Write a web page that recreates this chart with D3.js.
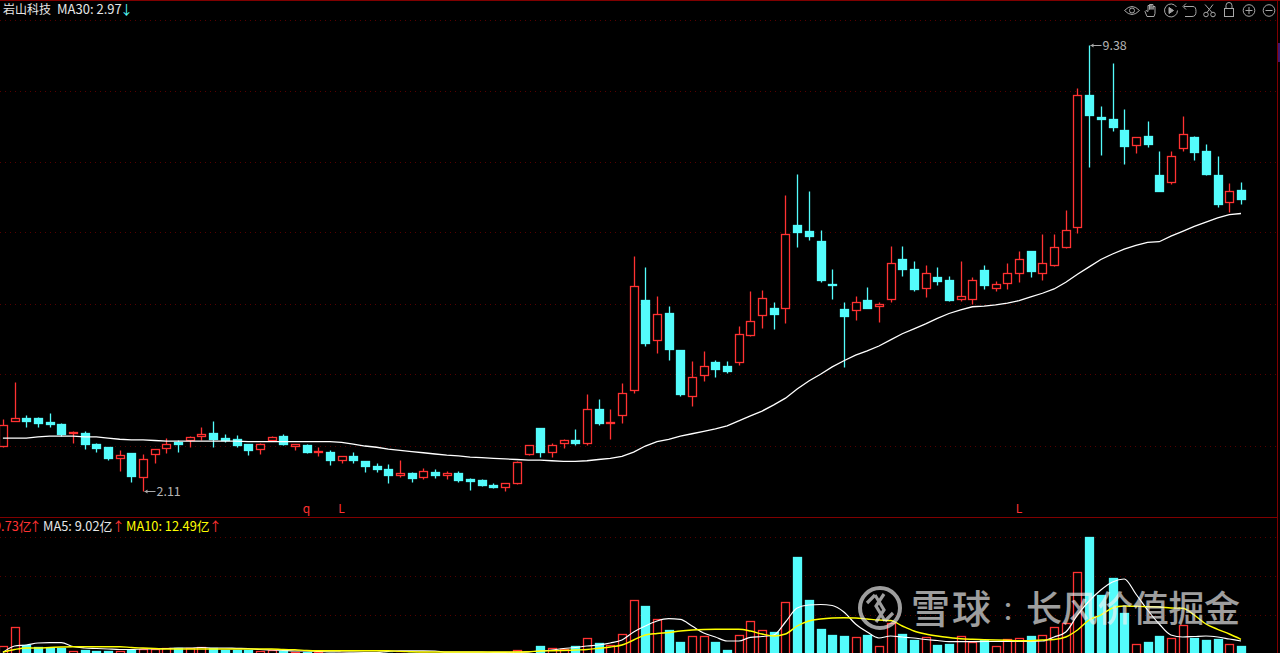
<!DOCTYPE html>
<html><head><meta charset="utf-8">
<script src="https://cdn.jsdelivr.net/npm/d3@7/dist/d3.min.js"></script>
<style>html,body{margin:0;padding:0;background:#000;overflow:hidden}svg{display:block}text{font-family:"Noto Sans CJK SC","Noto Sans",sans-serif}</style>
</head><body><svg id="c" width="1280" height="653"></svg>
<script>
const openP=[2.84,3.25,3.30,3.29,3.23,3.20,3.05,3.06,2.87,2.82,2.64,2.72,2.34,2.71,2.81,2.91,2.94,3.01,3.05,2.97,2.95,2.87,2.79,2.94,3.00,2.84,2.85,2.74,2.75,2.62,2.68,2.59,2.52,2.46,2.36,2.40,2.33,2.41,2.36,2.40,2.30,2.28,2.20,2.17,2.24,2.71,3.13,2.74,2.89,2.94,2.89,3.44,3.22,3.35,3.76,5.22,4.56,5.01,4.41,3.66,3.99,4.21,4.15,4.21,4.65,4.98,5.09,5.09,6.44,6.34,6.18,5.48,5.07,5.06,5.22,5.13,5.23,5.89,5.73,5.42,5.60,5.54,5.23,5.23,5.71,5.41,5.49,5.66,6.02,5.66,5.79,6.09,6.41,8.56,8.20,8.17,7.99,7.74,7.90,7.25,7.15,7.70,7.87,7.65,7.25,6.82,7.02];
const closeP=[3.19,3.29,3.25,3.22,3.20,3.04,3.07,2.87,2.81,2.65,2.69,2.35,2.63,2.79,2.88,2.87,2.98,3.04,2.95,2.93,2.86,2.78,2.87,2.98,2.88,2.87,2.74,2.76,2.62,2.68,2.61,2.51,2.46,2.37,2.40,2.32,2.43,2.37,2.40,2.29,2.27,2.20,2.17,2.23,2.58,2.85,2.74,2.85,2.94,2.89,3.44,3.22,3.23,3.70,5.45,4.52,4.99,4.42,3.69,3.96,4.15,4.10,4.07,4.66,4.87,5.25,5.00,6.30,6.33,6.26,5.54,5.47,4.96,5.18,5.09,5.15,5.83,5.72,5.40,5.66,5.53,5.22,5.28,5.54,5.46,5.48,5.66,5.89,5.70,5.82,6.08,6.36,8.56,8.24,8.17,8.04,7.73,7.88,7.76,6.99,7.57,7.92,7.63,7.27,6.78,7.00,6.87];
const highP=[3.28,3.88,3.35,3.32,3.38,3.21,3.08,3.08,2.89,2.82,2.78,2.72,2.71,2.79,2.97,2.94,3.00,3.15,3.25,3.04,3.02,2.88,2.89,3.00,3.04,2.87,2.87,2.83,2.78,2.68,2.74,2.59,2.57,2.55,2.62,2.41,2.48,2.47,2.43,2.43,2.32,2.30,2.24,2.23,2.60,2.85,3.13,2.89,2.95,3.12,3.69,3.61,3.44,3.86,5.94,5.76,5.29,5.12,4.41,4.23,4.39,4.24,4.23,4.80,5.37,5.39,5.19,6.93,7.27,6.99,6.36,5.72,5.18,5.29,5.43,5.18,6.10,6.10,5.86,5.79,5.76,5.61,5.86,5.59,5.79,5.53,5.82,6.02,6.02,6.30,6.30,6.69,8.68,9.38,8.39,9.09,8.34,7.88,8.14,7.65,7.65,8.22,7.89,7.76,7.57,7.12,7.14];
const lowP=[2.83,3.25,3.15,3.15,3.15,3.00,2.89,2.79,2.74,2.61,2.44,2.25,2.11,2.57,2.73,2.74,2.83,2.94,2.83,2.91,2.83,2.69,2.71,2.93,2.86,2.77,2.73,2.68,2.53,2.57,2.57,2.41,2.42,2.23,2.34,2.26,2.31,2.32,2.31,2.26,2.12,2.19,2.16,2.11,2.22,2.69,2.66,2.66,2.80,2.86,2.86,3.18,2.95,3.22,3.71,4.47,4.36,4.24,3.66,3.49,3.90,3.96,4.03,4.16,4.63,4.76,4.75,4.85,6.09,6.20,5.52,5.24,4.13,4.89,5.09,4.86,5.18,5.61,5.37,5.27,5.46,5.21,5.21,5.15,5.40,5.36,5.40,5.52,5.60,5.55,5.77,6.06,6.32,7.39,7.58,7.98,7.44,7.62,7.71,6.99,7.11,7.65,7.50,7.25,6.74,6.66,6.78];
const ma30=[2.97,2.97,2.97,2.99,3.00,3.00,3.00,2.99,2.99,2.97,2.95,2.94,2.94,2.93,2.92,2.92,2.92,2.92,2.92,2.92,2.92,2.91,2.91,2.91,2.91,2.91,2.91,2.91,2.91,2.90,2.87,2.84,2.82,2.79,2.77,2.75,2.73,2.71,2.69,2.68,2.66,2.65,2.64,2.63,2.62,2.61,2.61,2.60,2.59,2.59,2.60,2.62,2.64,2.67,2.74,2.84,2.91,2.95,3.00,3.04,3.08,3.12,3.17,3.25,3.33,3.41,3.51,3.62,3.77,3.90,4.01,4.13,4.23,4.32,4.39,4.47,4.57,4.67,4.75,4.83,4.92,5.00,5.06,5.11,5.12,5.14,5.17,5.21,5.27,5.33,5.40,5.51,5.64,5.76,5.88,5.97,6.05,6.11,6.16,6.17,6.26,6.34,6.42,6.49,6.56,6.61,6.63];
const volume=[7,16.35,7.5,6.5,6.15,6.15,4.65,5,4.65,4.5,4.5,5,5.65,5.65,5.85,5.85,6,6.65,5.85,4.85,5.15,5.15,4.35,5,4.5,4.15,4.15,3.85,3.65,3.5,3,3.25,3.5,3.75,3.75,3.75,3.75,3,3,3,3,3,3,3,4.85,3,7,5.85,5.65,6.85,10.85,8.65,7.65,12.85,29.85,27.15,20.5,14.85,9,11.85,11.85,9,4.85,12.35,19.5,14.85,14,28.85,51.5,30,15.5,12.5,12,11.35,12.5,7,18.35,13,10,11.35,7.65,8.15,11.85,8.85,10,7,10.35,10.85,12,12.5,16.35,18.35,43.85,61.35,32.5,41,23.35,7.85,9,12,10.85,17.65,11,10,10.5,7.85,6.85];
const ma5=[3.75,7,7.5,8.5,8.65,8.65,6.75,6,5.75,5.5,5.25,5.25,5.5,5.5,5.75,6,6,6.25,6,6,5.85,5.75,5.25,5,4.75,4.5,4.5,4.25,4.1,4,3.9,3.85,3.85,4.3,4.6,4.6,4.6,4.5,3.95,3.9,3.9,3.9,3.85,3.85,3.9,4.1,4.5,5,5.75,6.25,7,7.5,8.5,10,14,17,19.5,20.65,20.35,17,13.5,11.5,9.5,9.5,11.35,11.75,12.5,19,26,27.5,27.75,27.25,24,18,14,11,12,11.5,11,10.25,9.75,9.15,9.15,9.15,9.25,9.25,9.25,9.35,9.35,9.5,11.5,14,22.5,29.5,35,39,40.5,33,25,18,12.5,11.5,11.75,12,11.5,10.5,9.5];
const ma10=[4,5.25,6,6,6.25,6.5,6.65,6.65,6.65,6.65,6.65,6.25,6,5.75,5.5,5.5,5.5,5.5,5.5,5.5,5.5,5.5,5.5,5.5,5.25,5.15,4.75,4.65,4.65,4.65,4.65,4.65,4.65,4.6,4.3,4.1,4,4,4,4,4,4,4,4,4,4.1,4.5,4.6,4.75,5,5.25,5.85,6.5,7.5,10,12.5,13.25,13.75,14.5,15,15.25,15.35,15.35,15.35,14.5,13,12,13,17,19.5,20.5,21,21.15,21,20.5,20,19.75,17,14.5,13,12,11.25,10.65,10.35,10.15,10,9.85,9.65,9.65,10,10.25,11.5,15,20,22.5,26,27,26.85,26.65,26.5,26,25.85,22.5,18,15.35,13,10.35];
const priceGrid=[9.78,8.63,7.47,6.33,5.15,4.01,2.84];
const volGrid=[61.5,42,22.5];
const peakLabels=[{i:93,v:9.38,t:"9.38"},{i:12,v:2.11,t:"2.11"}];
const signalIdx=[{i:26,t:"q"},{i:29,t:"L"},{i:87,t:"L"}];
const stockName="岩山科技";
const maLabel="MA30: 2.97";
const volLabel="9.73亿";
const ma5Label="MA5: 9.02亿";
const ma10Label="MA10: 12.49亿";
const wmBrand=["雪","球"];
const wmColon="：";
const wmAuthor=["长","风","价","值","掘","金"];

const RED="#ff3232",CYAN="#54fcfc",GRID="#560000",FRAME="#800000";
const svg=d3.select("#c");
svg.append("rect").attr("width",1280).attr("height",653).attr("fill","#000");
const n=openP.length;
const x=d3.scaleLinear().domain([0,n-1]).range([2.9,1241]);
const y=d3.scaleLinear().domain([10.11,1.683]).range([0,517]);
const yv=d3.scaleLinear().domain([0,61.5]).range([660,537]);
const px=v=>Math.round(x(v))+.5, py=v=>Math.round(y(v))+.5;
const BW=8, SW=1.3;

const g=svg.append("g");
g.selectAll(".pg").data(priceGrid).join("line").attr("x1",0).attr("x2",1277).attr("y1",py).attr("y2",py)
 .attr("stroke",GRID).attr("stroke-dasharray","1 4");
g.selectAll(".vg").data(volGrid).join("line").attr("x1",0).attr("x2",1277)
 .attr("y1",d=>Math.round(yv(d))+.5).attr("y2",d=>Math.round(yv(d))+.5)
 .attr("stroke",GRID).attr("stroke-dasharray","1 4");
g.append("line").attr("x1",0).attr("x2",1280).attr("y1",.5).attr("y2",.5).attr("stroke",FRAME);
g.append("line").attr("x1",0).attr("x2",1277).attr("y1",517.5).attr("y2",517.5).attr("stroke",FRAME);
g.append("line").attr("x1",1277.5).attr("x2",1277.5).attr("y1",0).attr("y2",653).attr("stroke",FRAME);
g.append("rect").attr("x",1278).attr("y",43).attr("width",2).attr("height",19).attr("fill","#3c1a6e");

const idx=d3.range(n);
const c=svg.append("g");
const isUp=i=>closeP[i]>=openP[i];
c.selectAll(".w").data(idx).join("line")
 .attr("x1",px).attr("x2",px).attr("y1",i=>py(highP[i])).attr("y2",i=>py(lowP[i]))
 .attr("stroke",i=>isUp(i)?RED:CYAN).attr("stroke-width",SW);
c.selectAll(".b").data(idx).join("rect")
 .attr("x",i=>px(i)-BW/2)
 .attr("width",BW)
 .attr("y",i=>py(Math.max(openP[i],closeP[i])))
 .attr("height",i=>Math.max(1,py(Math.min(openP[i],closeP[i]))-py(Math.max(openP[i],closeP[i]))))
 .attr("fill",i=>isUp(i)?"#000":CYAN)
 .attr("stroke",i=>isUp(i)?RED:CYAN).attr("stroke-width",SW);

const line=d3.line().x((d,i)=>x(i)).y(d=>y(d));
svg.append("path").attr("d",line(ma30)).attr("fill","none").attr("stroke","#fff").attr("stroke-width",1.3);

const lab=svg.append("g");
peakLabels.forEach(p=>{
  const xx=px(p.i),yy=py(p.v);
  lab.append("line").attr("x1",xx+1).attr("x2",xx+12).attr("y1",yy).attr("y2",yy).attr("stroke","#aaa");
  lab.append("path").attr("d",`M${xx+1},${yy}l3,-2v4z`).attr("fill","#aaa");
  lab.append("text").attr("x",xx+13).attr("y",yy+4.5).attr("fill","#b4b4b4").attr("font-size",12.5).text(p.t);
});
lab.selectAll(".s").data(signalIdx).join("text").attr("x",d=>x(d.i)).attr("y",513)
 .attr("text-anchor","middle").attr("fill",RED).attr("font-size",12).text(d=>d.t);

const v=svg.append("g");
v.selectAll("rect").data(idx).join("rect")
 .attr("x",i=>px(i)-BW/2).attr("width",BW)
 .attr("y",i=>Math.round(yv(volume[i]))+.5)
 .attr("height",i=>yv(0)-Math.round(yv(volume[i])))
 .attr("fill",i=>isUp(i)?"#000":CYAN)
 .attr("stroke",i=>isUp(i)?RED:CYAN).attr("stroke-width",SW);
const lv=d3.line().x((d,i)=>x(i)).y(d=>yv(d)).curve(d3.curveMonotoneX);
svg.append("path").attr("d",lv(ma5)).attr("fill","none").attr("stroke","#fff").attr("stroke-width",1.2);
svg.append("path").attr("d",lv(ma10)).attr("fill","none").attr("stroke","#ffff00").attr("stroke-width",1.4);

const h1=svg.append("text").attr("y",14).attr("fill","#e6e6e6");
h1.append("tspan").attr("x",3).attr("font-size",12).text(stockName);
h1.append("tspan").attr("x",57).attr("font-size",13).text(maLabel);
h1.append("tspan").attr("x",120).attr("font-size",13).attr("fill",CYAN).text("↓");
const hv=svg.append("text").attr("y",531).attr("font-size",12.8);
hv.append("tspan").attr("x",-6).attr("fill",RED).text(volLabel);
hv.append("tspan").attr("x",29).attr("fill",RED).text("↑");
hv.append("tspan").attr("x",43).attr("fill","#e6e6e6").text(ma5Label);
hv.append("tspan").attr("x",112).attr("fill",RED).text("↑");
hv.append("tspan").attr("x",126).attr("fill","#ffff00").text(ma10Label);
hv.append("tspan").attr("x",209).attr("fill",RED).text("↑");

const tb=svg.append("g").attr("fill","none").attr("stroke","#a8a8a8").attr("stroke-width",1);
const ty=10.5;
tb.append("path").attr("d",`M1124.5,${ty}Q1132,${ty-8} 1139.5,${ty}Q1132,${ty+8} 1124.5,${ty}Z`);
tb.append("circle").attr("cx",1132).attr("cy",ty).attr("r",2.5);
tb.append("path").attr("d",`M1147,${ty+6}L1145,${ty+1}L1146,${ty}L1148,${ty+1}V${ty-5}H1149.5V${ty-1}V${ty-6}H1151V${ty-1}V${ty-6}H1153V${ty-1}V${ty-4}H1155V${ty+3}L1154,${ty+6}Z`);
tb.append("path").attr("d",`M1176.5,${ty-3.5}A6.5,6.5 0 1 0 1177.5,${ty}`);
tb.append("path").attr("d",`M1169,${ty-3}L1173.5,${ty}L1169,${ty+3}Z`).attr("fill","#a8a8a8");
tb.append("path").attr("d",`M1184,${ty-4}H1193Q1196,${ty-4} 1196,${ty+1}Q1196,${ty+6} 1192,${ty+6}H1185M1186,${ty-7}L1183,${ty-4}L1186,${ty-1}`);
tb.append("circle").attr("cx",1206).attr("cy",ty+4).attr("r",2.3);
tb.append("circle").attr("cx",1213).attr("cy",ty+4).attr("r",2.3);
tb.append("path").attr("d",`M1207,${ty+2}L1213,${ty-6}M1212,${ty+2}L1205,${ty-6}`);
tb.append("rect").attr("x",1224.5).attr("y",ty-2).attr("width",9).attr("height",8);
tb.append("path").attr("d",`M1226,${ty-2}V${ty-5}A3,3 0 0 1 1232,${ty-5}V${ty-2}`);
tb.append("circle").attr("cx",1249).attr("cy",ty).attr("r",5.8);
tb.append("path").attr("d",`M1245.5,${ty}H1252.5M1249,${ty-3.5}V${ty+3.5}`);
tb.append("circle").attr("cx",1269).attr("cy",ty).attr("r",5.8);
tb.append("path").attr("d",`M1265.5,${ty}H1272.5`);

const wm=svg.append("g").attr("opacity",.66).attr("fill","#f0f0f0");
wm.append("circle").attr("cx",880).attr("cy",608).attr("r",20).attr("fill","none").attr("stroke","#f0f0f0").attr("stroke-width",4);
wm.append("path").attr("d","M867,603L875,595M875,595L884,610L876,622M893,613L885,621M885,621L876,606L884,594").attr("fill","none").attr("stroke","#f0f0f0").attr("stroke-width",3.2);
const wmT=wm.append("g").attr("font-weight",500);
wmBrand.forEach((t,i)=>wmT.append("text").attr("x",911+i*41).attr("y",623).attr("font-size",39).text(t));
wmT.append("text").attr("x",1002).attr("y",619).attr("font-size",24).text(wmColon);
wmAuthor.forEach((t,i)=>wmT.append("text").attr("x",1026+i*35.6).attr("y",622).attr("font-size",36).text(t));
</script></body></html>
